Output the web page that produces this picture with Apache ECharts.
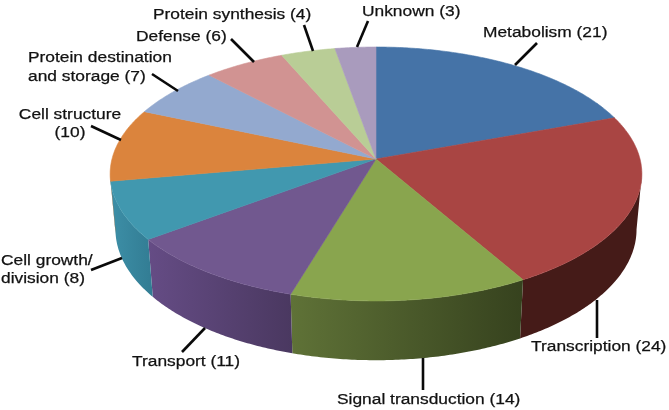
<!DOCTYPE html>
<html>
<head>
<meta charset="utf-8">
<style>html,body{margin:0;padding:0;background:#fff}#c{width:669px;height:410px}</style>
<script src="https://cdn.jsdelivr.net/npm/echarts@6/dist/echarts.min.js"></script>
</head>
<body>
<div id="c"></div>
<script>
// Data
var categories = ['Metabolism','Transcription','Signal transduction','Transport','Cell growth/division','Cell structure','Protein destination and storage','Defense','Protein synthesis','Unknown'];
var counts = [21,24,14,11,8,10,7,6,4,3];
var labelLines = [
  ['Metabolism (21)'],['Transcription (24)'],['Signal transduction (14)'],['Transport (11)'],
  ['Cell growth/','division (8)'],['Cell structure','(10)'],['Protein destination','and storage (7)'],
  ['Defense (6)'],['Protein synthesis (4)'],['Unknown (3)']
];
// Styles
var topColors = ['#4573A7','#A94543','#89A54E','#71588F','#4198AF','#DB843D','#93A9CF','#D19392','#B9CD96','#A99BBD'];
var wallColors = [
  ['#2E4D70','#2E4D70'],['#451B18','#451B18'],['#5F7237','#36421E'],['#654C85','#4A3860'],
  ['#3D8FA7','#327C93'],['#B86F33','#B86F33'],['#6E7F9B','#6E7F9B'],['#9C6E6D','#9C6E6D'],['#8B9A70','#8B9A70'],['#7F748E','#7F748E']
];
// Layout (perspective of the pie and label placement)
var view = {cx:376, cy:159, a:264, b:125.2, k:0.118, bottomY:214, bottomSx:0.98, bottomSy:1.03};
var labelLayout = [
  {x:483,y:33,align:'left',line:[537,43,515,65]},
  {x:531,y:347,align:'left',line:[597,300,597,338]},
  {x:337,y:400,align:'left',line:[423,358,423,390]},
  {x:132,y:362,align:'left',line:[182,352,205,328]},
  {x:1,y:261,align:'left',lh:18,line:[91,270,122,258]},
  {x:70,y:115,align:'center',lh:18,line:[91,126,121,140]},
  {x:28,y:58,align:'left',lh:19,line:[152,74,178,91]},
  {x:136,y:37,align:'left',line:[231,39,254,62]},
  {x:153,y:15,align:'left',line:[304,25,313,51]},
  {x:362,y:12,align:'left',line:[368,21,357,47]}
];
var textStretch = 1.12;

var total = counts.reduce(function(a,b){return a+b;},0);
function startOf(i){var s=0;for(var j=0;j<i;j++)s+=counts[j];return s/total*Math.PI*2;}
function topPt(t){
  var u=Math.sin(t),v=-Math.cos(t),d=1-view.k*v;
  return [view.cx+view.a*u/d, view.cy+view.b*v/d];
}
function botPt(t){
  var u=Math.sin(t),v=-Math.cos(t),d=1-view.k*v;
  return [view.cx+view.bottomSx*view.a*u/d, view.bottomY+view.bottomSy*view.b*v/d];
}
function sample(t0,t1,fn){
  var n=Math.max(2,Math.ceil(Math.abs(t1-t0)/0.01)),p=[];
  for(var i=0;i<=n;i++)p.push(fn(t0+(t1-t0)*i/n));
  return p;
}
var visA=Math.acos(-view.k), visB=Math.PI*2-visA;

function wallItem(params,api){
  var i=params.dataIndex, t0=Math.max(startOf(i),visA), t1=Math.min(startOf(i)+api.value(0)/total*Math.PI*2,visB);
  if(t1<=t0) return {type:'group',children:[]};
  var pts=sample(t0,t1,topPt).concat(sample(t1,t0,botPt));
  var c=wallColors[i];
  // the slice runs right-to-left along the front of the pie
  return {type:'polygon',shape:{points:pts},silent:true,style:{
    fill:new echarts.graphic.LinearGradient(0,0,1,0,[{offset:0,color:c[0]},{offset:1,color:c[1]}]),
    stroke:null}};
}
function topItem(params,api){
  var i=params.dataIndex, t0=startOf(i), t1=t0+api.value(0)/total*Math.PI*2;
  var pts=[[view.cx,view.cy]].concat(sample(t0,t1,topPt));
  return {type:'polygon',shape:{points:pts},silent:true,style:{fill:topColors[i],stroke:topColors[i],lineWidth:0.6}};
}
function labelItem(params){
  var i=params.dataIndex, L=labelLayout[i], kids=[];
  kids.push({type:'line',shape:{x1:L.line[0],y1:L.line[1],x2:L.line[2],y2:L.line[3]},style:{stroke:'#0a0a0a',lineWidth:2.6}});
  labelLines[i].forEach(function(s,j){
    kids.push({type:'text',x:L.x,y:L.y+j*(L.lh||0),scaleX:textStretch,
      style:{text:s,font:'15.5px "Liberation Sans", Arial, sans-serif',fill:'#111111',stroke:'#111111',lineWidth:0.25,align:L.align,verticalAlign:'middle'}});
  });
  return {type:'group',children:kids};
}

var chart = echarts.init(document.getElementById('c'),null,{renderer:'canvas'});
var seriesData = counts.map(function(v,i){return {name:categories[i],value:[v]};});
chart.setOption({
  animation:false,
  backgroundColor:'#ffffff',
  series:[
    {type:'custom',coordinateSystem:'none',renderItem:wallItem,data:seriesData,z:1,silent:true},
    {type:'custom',coordinateSystem:'none',renderItem:topItem,data:seriesData,z:2,silent:true},
    {type:'custom',coordinateSystem:'none',renderItem:labelItem,data:seriesData,z:3,silent:true}
  ]
});
</script>
</body>
</html>
